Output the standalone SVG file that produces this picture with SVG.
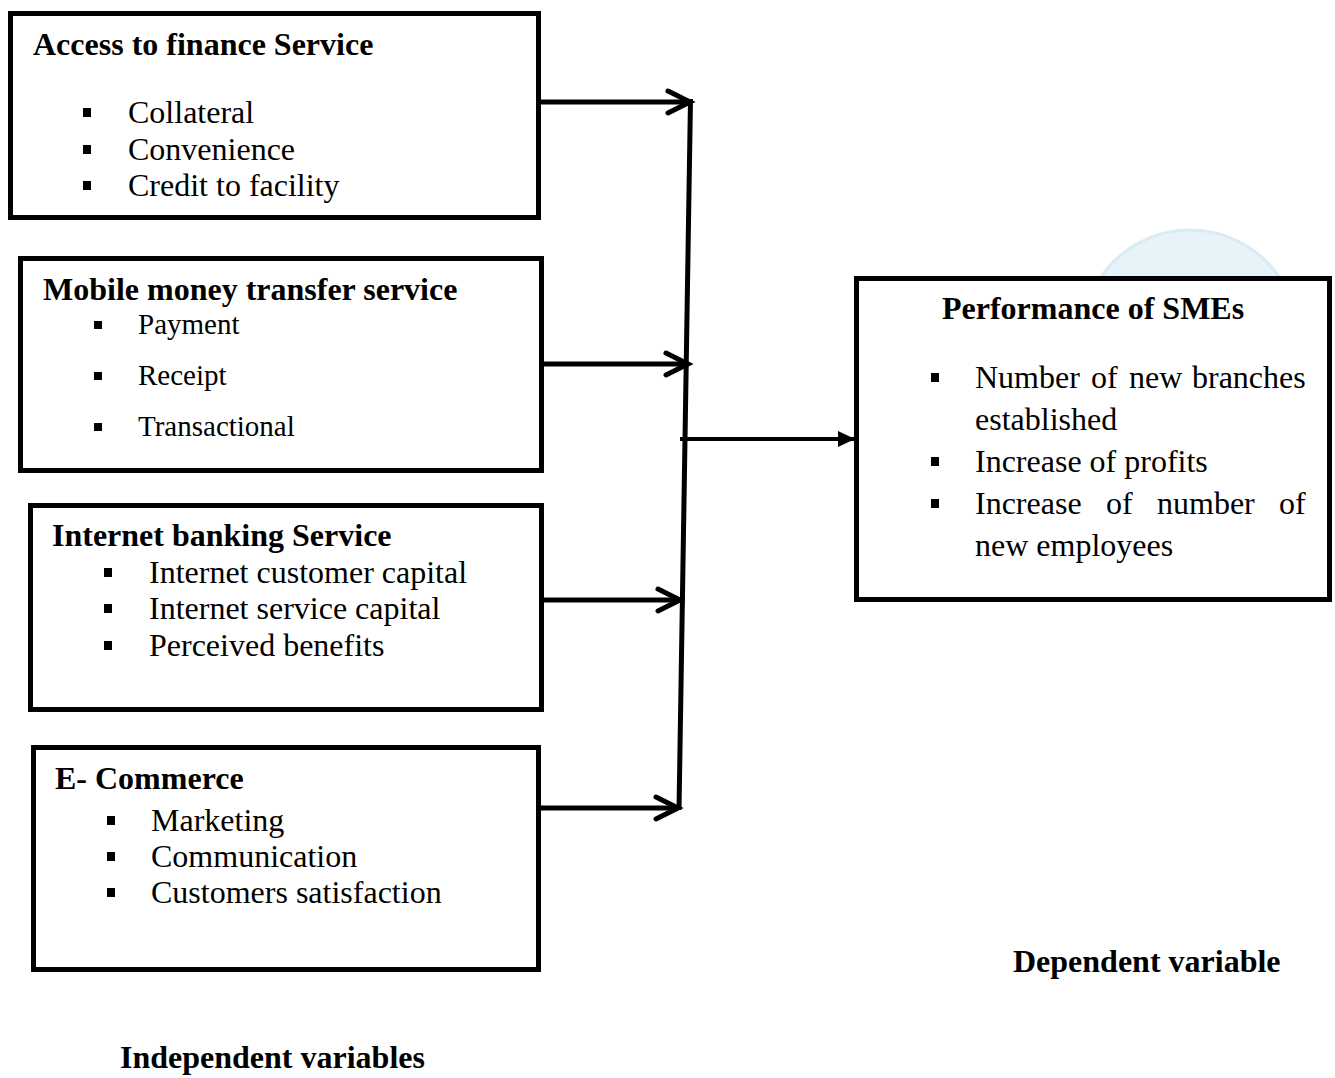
<svg xmlns="http://www.w3.org/2000/svg" width="1335" height="1078" viewBox="0 0 1335 1078">
<style>
.box{fill:#ffffff;stroke:#000000;stroke-width:5}
.title{font-family:"Liberation Serif","Times New Roman",serif;font-weight:bold;font-size:32px;fill:#000}
.item{font-family:"Liberation Serif","Times New Roman",serif;font-size:32px;fill:#000}
.item29{font-family:"Liberation Serif","Times New Roman",serif;font-size:29px;fill:#000}
.bul{fill:#000}
.conn{stroke:#000;stroke-width:5;fill:none}
</style>
<defs>
<marker id="chev" markerUnits="userSpaceOnUse" markerWidth="34" markerHeight="34" refX="26" refY="15" orient="auto">
<path d="M4,4 L26,15 L4,26" fill="none" stroke="#000" stroke-width="5" stroke-linecap="round" stroke-linejoin="miter"/>
</marker>
<marker id="tri" markerUnits="userSpaceOnUse" markerWidth="20" markerHeight="18" refX="17" refY="8" orient="auto">
<path d="M0,0 L17,8 L0,16 z" fill="#000"/>
</marker>
</defs>
<rect width="1335" height="1078" fill="#ffffff"/>
<g id="watermark">
<circle cx="1190" cy="338" r="108" fill="#e6f3f9" stroke="#d9ebf3" stroke-width="3"/>
</g>
<g id="connectors">
<line class="conn" x1="690.5" y1="99" x2="679" y2="810"/>
<line class="conn" x1="541" y1="102" x2="690" y2="102" marker-end="url(#chev)"/>
<line class="conn" x1="544" y1="364" x2="688" y2="364" marker-end="url(#chev)"/>
<line class="conn" x1="544" y1="600" x2="680" y2="600" marker-end="url(#chev)"/>
<line class="conn" x1="541" y1="808" x2="678" y2="808" marker-end="url(#chev)"/>
<line x1="680" y1="439" x2="855" y2="439" stroke="#000" stroke-width="4" marker-end="url(#tri)"/>
</g>
<g id="node-access">
<rect class="box" x="10.5" y="13.5" width="528" height="204"/>
<text class="title" x="33" y="55">Access to finance Service</text>
<rect class="bul" x="83" y="108" width="8" height="9"/>
<text class="item" x="128" y="123">Collateral</text>
<rect class="bul" x="83" y="145" width="8" height="9"/>
<text class="item" x="128" y="160">Convenience</text>
<rect class="bul" x="83" y="181" width="8" height="9"/>
<text class="item" x="128" y="196">Credit to facility</text>
</g>
<g id="node-mobile">
<rect class="box" x="20.5" y="258.5" width="521" height="212"/>
<text class="title" x="43" y="300">Mobile money transfer service</text>
<rect class="bul" x="94" y="321" width="8" height="8"/>
<text class="item29" x="138" y="334">Payment</text>
<rect class="bul" x="94" y="372" width="8" height="8"/>
<text class="item29" x="138" y="385">Receipt</text>
<rect class="bul" x="94" y="423" width="8" height="8"/>
<text class="item29" x="138" y="436">Transactional</text>
</g>
<g id="node-internet">
<rect class="box" x="30.5" y="505.5" width="511" height="204"/>
<text class="title" x="52" y="546">Internet banking Service</text>
<rect class="bul" x="104" y="568" width="8" height="9"/>
<text class="item" x="149" y="583">Internet customer capital</text>
<rect class="bul" x="104" y="604" width="8" height="9"/>
<text class="item" x="149" y="619">Internet service capital</text>
<rect class="bul" x="104" y="641" width="8" height="9"/>
<text class="item" x="149" y="656">Perceived benefits</text>
</g>
<g id="node-ecommerce">
<rect class="box" x="33.5" y="747.5" width="505" height="222"/>
<text class="title" x="55" y="789">E- Commerce</text>
<rect class="bul" x="107" y="816" width="8" height="9"/>
<text class="item" x="151" y="831">Marketing</text>
<rect class="bul" x="107" y="852" width="8" height="9"/>
<text class="item" x="151" y="867">Communication</text>
<rect class="bul" x="107" y="888" width="8" height="9"/>
<text class="item" x="151" y="903">Customers satisfaction</text>
</g>
<g id="node-performance">
<rect class="box" x="856.5" y="278.5" width="473" height="321"/>
<text class="title" x="942" y="319">Performance of SMEs</text>
<rect class="bul" x="931" y="373" width="8" height="9"/>
<text class="item" y="388"><tspan x="975">Number</tspan><tspan x="1091">of</tspan><tspan x="1129">new</tspan><tspan x="1192">branches</tspan></text>
<text class="item" x="975" y="430">established</text>
<rect class="bul" x="931" y="457" width="8" height="9"/>
<text class="item" x="975" y="472">Increase of profits</text>
<rect class="bul" x="931" y="499" width="8" height="9"/>
<text class="item" y="514"><tspan x="975">Increase</tspan><tspan x="1106">of</tspan><tspan x="1157">number</tspan><tspan x="1279">of</tspan></text>
<text class="item" x="975" y="556">new employees</text>
</g>
<g id="labels">
<text class="title" x="1013" y="972">Dependent variable</text>
<text class="title" x="120" y="1068">Independent variables</text>
</g>
</svg>
